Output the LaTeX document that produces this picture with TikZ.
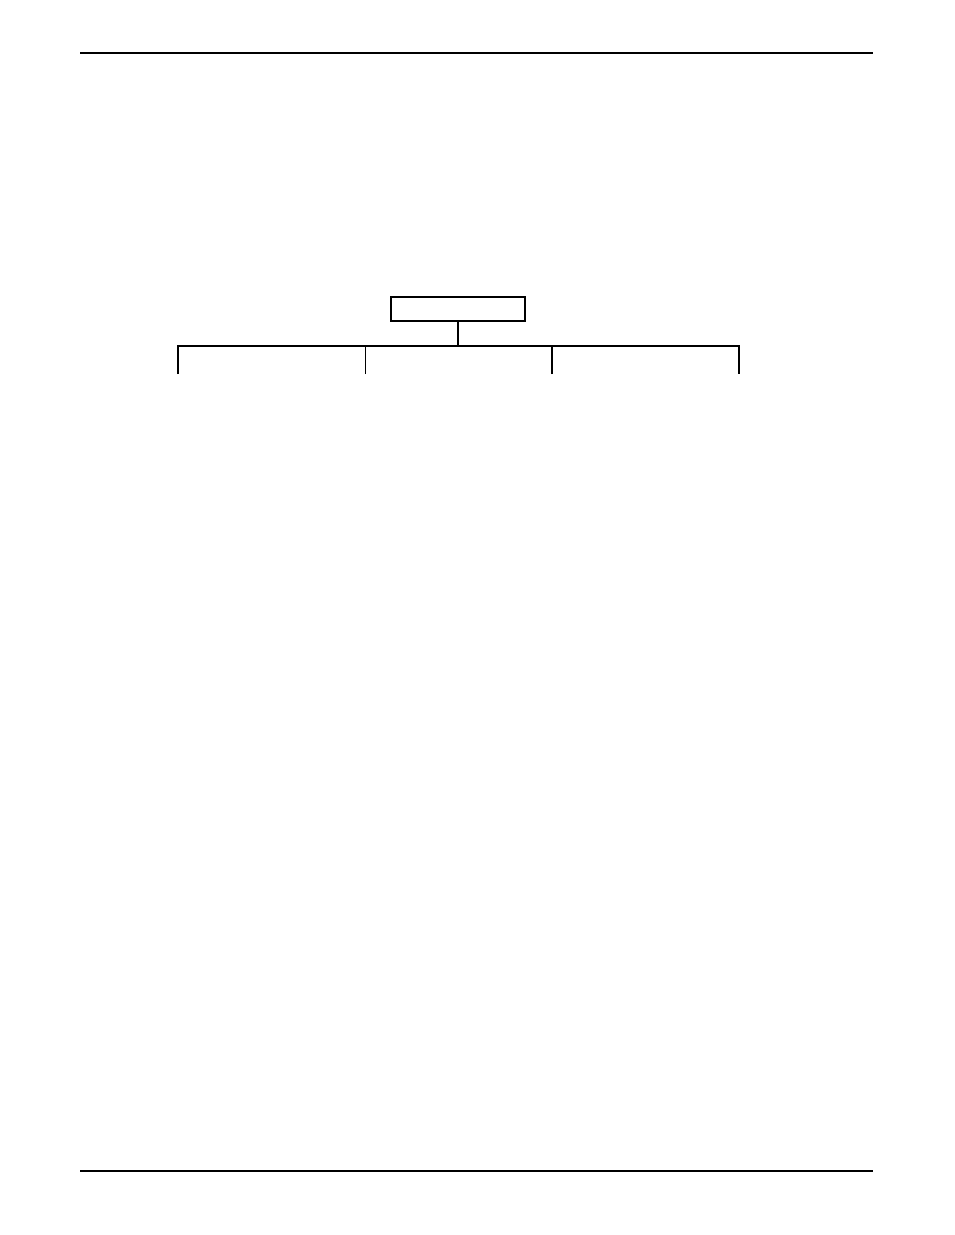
\documentclass[tikz,border=0pt]{standalone}
\usepackage{tikz}
\usetikzlibrary{positioning}
\tikzset{
x=1pt, y=-1pt, % one unit is one pixel of the page
rule/.style={line width=1.6pt}, % header and footer rules
unit/.style={draw, line width=1.8pt, minimum width=134pt, minimum height=24pt, inner sep=0pt}, % the box at the top of the tree
branch/.style={line width=1.8pt}, % the lines of the tree
}
\begin{document}
\begin{tikzpicture}
            \useasboundingbox (0,0) rectangle (954,1235);
            % page rules
            \coordinate (headl) at (80,53);
            \coordinate (headr) at (873,53);
            \coordinate (footl) at (80,1171);
            \coordinate (footr) at (873,1171);
            \draw[rule] (headl) -- (headr);
            \draw[rule] (footl) -- (footr);
            % the tree
            \node[unit] (root) at (458,309) {};
            \coordinate (bar) at (458,346);
            \coordinate (barl) at (178,346);
            \coordinate (barr) at (739,346);
            \coordinate (leafa) at (178,374);
            \coordinate (leafb) at (365,374);
            \coordinate (leafc) at (552,374);
            \coordinate (leafd) at (739,374);
            \draw[branch] (root.south) -- (bar);
            \draw[branch] (leafa) -- (barl) -- (barr) -- (leafd);
            \draw[line width=1pt] (leafb) -- (leafb |- bar);
            \draw[branch] (leafc) -- (leafc |- bar);
        \end{tikzpicture}
\end{document}
